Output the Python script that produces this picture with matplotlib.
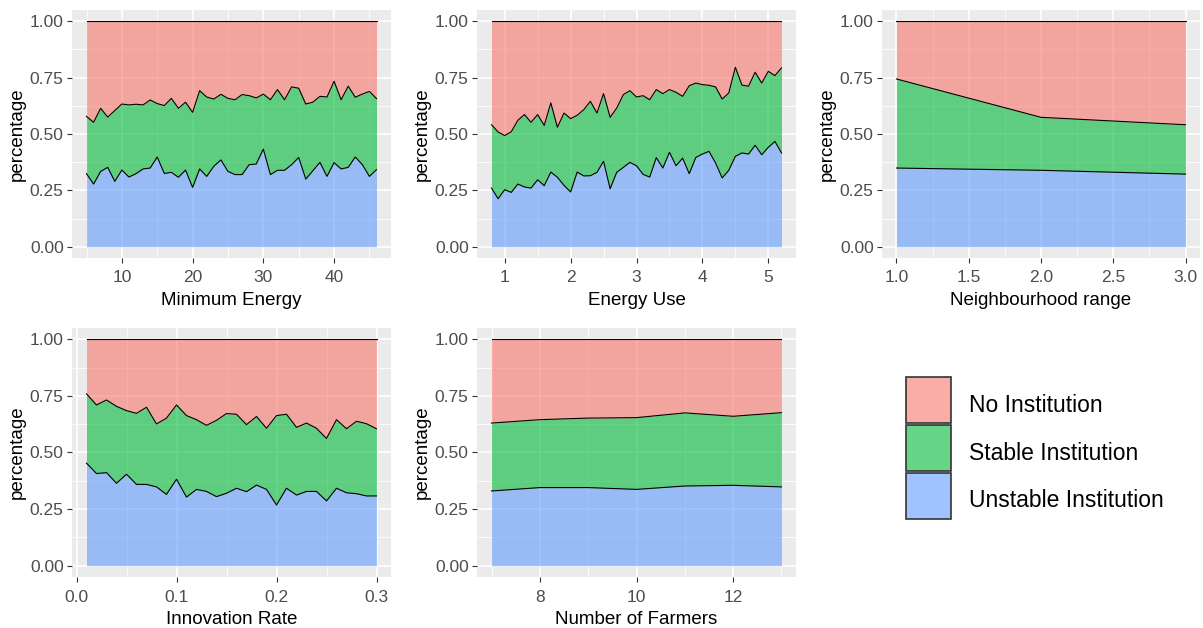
"""
Stacked area charts: share of runs ending with no / stable / unstable institution
for five model parameters, drawn in a ggplot-like style.
"""
import matplotlib
matplotlib.use('Agg')
import matplotlib.pyplot as plt
import matplotlib.transforms as mtransforms
from matplotlib.patches import Patch
from matplotlib.ticker import FixedLocator, FormatStrFormatter
import numpy as np

plt.rcParams['font.family'] = ['Liberation Sans', 'DejaVu Sans']

labels = ['No Institution', 'Stable Institution', 'Unstable Institution']
colors = ['#F8766D', '#00BA38', '#619CFF']

# Minimum Energy
min_energy = list(range(5, 47))
min_energy_unstable = [0.324, 0.278, 0.334, 0.352, 0.290, 0.340, 0.309, 0.324, 0.345, 0.349,
                       0.398, 0.325, 0.330, 0.308, 0.340, 0.263, 0.345, 0.312, 0.357, 0.385,
                       0.334, 0.320, 0.320, 0.364, 0.367, 0.433, 0.320, 0.339, 0.339, 0.364,
                       0.396, 0.300, 0.337, 0.374, 0.312, 0.373, 0.345, 0.352, 0.398, 0.364,
                       0.312, 0.342]
min_energy_stable = [0.254, 0.274, 0.280, 0.223, 0.314, 0.293, 0.320, 0.308, 0.284, 0.302,
                     0.237, 0.301, 0.328, 0.306, 0.301, 0.333, 0.347, 0.352, 0.298, 0.291,
                     0.324, 0.332, 0.355, 0.306, 0.293, 0.244, 0.332, 0.358, 0.313, 0.345,
                     0.307, 0.333, 0.304, 0.293, 0.352, 0.361, 0.307, 0.360, 0.265, 0.313,
                     0.377, 0.315]

# Energy Use
energy_use = np.round(np.arange(0.8, 5.25, 0.1), 1)
energy_use_unstable = [0.260, 0.213, 0.253, 0.241, 0.278, 0.265, 0.260, 0.297, 0.271, 0.331,
                       0.308, 0.272, 0.243, 0.331, 0.314, 0.315, 0.330, 0.379, 0.257, 0.330,
                       0.352, 0.374, 0.359, 0.321, 0.309, 0.395, 0.349, 0.419, 0.359, 0.393,
                       0.324, 0.396, 0.411, 0.423, 0.371, 0.305, 0.339, 0.401, 0.416, 0.411,
                       0.450, 0.408, 0.441, 0.467, 0.416]
energy_use_stable = [0.281, 0.296, 0.240, 0.269, 0.283, 0.321, 0.292, 0.289, 0.267, 0.307,
                     0.222, 0.321, 0.325, 0.252, 0.294, 0.330, 0.263, 0.300, 0.317, 0.285,
                     0.323, 0.318, 0.305, 0.349, 0.343, 0.302, 0.330, 0.278, 0.326, 0.274,
                     0.390, 0.330, 0.308, 0.293, 0.338, 0.350, 0.343, 0.395, 0.301, 0.301,
                     0.324, 0.318, 0.337, 0.292, 0.377]

# Neighbourhood range
neigh_range = [1.0, 2.0, 3.0]
neigh_unstable = [0.349, 0.339, 0.322]
neigh_stable = [0.395, 0.235, 0.219]

# Innovation Rate
innov_rate = np.round(np.arange(0.01, 0.305, 0.01), 2)
innov_unstable = [0.453, 0.407, 0.411, 0.364, 0.404, 0.359, 0.359, 0.348, 0.315, 0.382,
                  0.303, 0.337, 0.328, 0.305, 0.320, 0.342, 0.327, 0.356, 0.337, 0.268,
                  0.342, 0.312, 0.328, 0.328, 0.286, 0.342, 0.322, 0.318, 0.308, 0.308]
innov_stable = [0.306, 0.303, 0.321, 0.340, 0.281, 0.314, 0.341, 0.278, 0.337, 0.328,
                0.360, 0.308, 0.292, 0.337, 0.352, 0.327, 0.296, 0.303, 0.270, 0.395,
                0.327, 0.299, 0.302, 0.279, 0.276, 0.303, 0.283, 0.320, 0.319, 0.297]

# Number of Farmers
farmers = [7, 8, 9, 10, 11, 12, 13]
farmers_unstable = [0.330, 0.345, 0.345, 0.337, 0.352, 0.355, 0.348]
farmers_stable = [0.300, 0.300, 0.307, 0.317, 0.323, 0.305, 0.328]

W, H = 1203, 628


def add_panel(fig, box, x, unstable, stable, xlabel, xticks, xminor, xfmt):
    """Одна панель: три слоя с накоплением, серый фон, белая сетка."""
    x0, y0, x1, y1 = box
    ax = fig.add_axes([x0 / W, 1 - y1 / H, (x1 - x0) / W, (y1 - y0) / H])
    x = np.asarray(x, dtype=float)
    u = np.asarray(unstable)
    s = u + np.asarray(stable)
    top = np.ones_like(u)

    ax.fill_between(x, 0, u, color=colors[2], alpha=0.6, lw=0)
    ax.fill_between(x, u, s, color=colors[1], alpha=0.6, lw=0)
    ax.fill_between(x, s, top, color=colors[0], alpha=0.6, lw=0)
    for line in (u, s, top):
        ax.plot(x, line, color='black', lw=0.8)

    span = x.max() - x.min()
    ax.set_xlim(x.min() - 0.05 * span, x.max() + 0.05 * span)
    ax.set_ylim(-0.05, 1.05)

    ax.set_facecolor('#EBEBEB')
    for sp in ax.spines.values():
        sp.set_visible(False)
    ax.set_axisbelow(True)
    ax.xaxis.set_major_locator(FixedLocator(xticks))
    ax.xaxis.set_minor_locator(FixedLocator(xminor))
    ax.xaxis.set_major_formatter(FormatStrFormatter(xfmt))
    ax.yaxis.set_major_locator(FixedLocator([0, 0.25, 0.5, 0.75, 1.0]))
    ax.yaxis.set_minor_locator(FixedLocator([0.125, 0.375, 0.625, 0.875]))
    ax.yaxis.set_major_formatter(FormatStrFormatter('%.2f'))
    ax.grid(which='major', color='white', lw=1.2)
    ax.grid(which='minor', color='white', lw=0.6)
    ax.tick_params(which='major', length=3.5, width=0.8, color='#333333',
                   labelcolor='#4D4D4D', labelsize=12.5)
    ax.tick_params(axis='x', which='major', pad=5.5)
    ax.tick_params(axis='y', which='major', pad=2.5)
    ax.tick_params(which='minor', length=0)

    ax.set_xlabel(xlabel, fontsize=13.5, labelpad=5)
    ax.set_ylabel('percentage', fontsize=13.5, labelpad=3)
    return ax


fig = plt.figure(figsize=(W / 100, H / 100), dpi=100)

add_panel(fig, (72, 10, 391, 258), min_energy, min_energy_unstable, min_energy_stable,
          'Minimum Energy', [10, 20, 30, 40], [5, 15, 25, 35, 45], '%d')
add_panel(fig, (477, 10, 796, 258), energy_use, energy_use_unstable, energy_use_stable,
          'Energy Use', [1, 2, 3, 4, 5], [1.5, 2.5, 3.5, 4.5], '%d')
add_panel(fig, (882, 10, 1200, 258), neigh_range, neigh_unstable, neigh_stable,
          'Neighbourhood range', [1.0, 1.5, 2.0, 2.5, 3.0], [1.25, 1.75, 2.25, 2.75], '%.1f')
add_panel(fig, (72, 328, 391, 577), innov_rate, innov_unstable, innov_stable,
          'Innovation Rate', [0.0, 0.1, 0.2, 0.3], [0.05, 0.15, 0.25], '%.1f')
add_panel(fig, (477, 328, 796, 577), farmers, farmers_unstable, farmers_stable,
          'Number of Farmers', [8, 10, 12], [7, 9, 11, 13], '%d')

handles = [Patch(facecolor=matplotlib.colors.to_rgba(c, 0.6), edgecolor='#333333', lw=1.2)
           for c in colors]
leg = fig.legend(handles=handles, labels=labels, loc='upper left',
                 bbox_to_anchor=(906 / W, 1 - 377 / H), frameon=False, fontsize=16.5,
                 handlelength=1.96, handleheight=2.71, labelspacing=0.08,
                 handletextpad=0.8, borderpad=0, borderaxespad=0)
# подписи легенды опускаем к центру квадратов
for t in leg.get_texts():
    t.set_transform(t.get_transform() + mtransforms.Affine2D().translate(0, -5))

plt.savefig('out.png', dpi=100)
